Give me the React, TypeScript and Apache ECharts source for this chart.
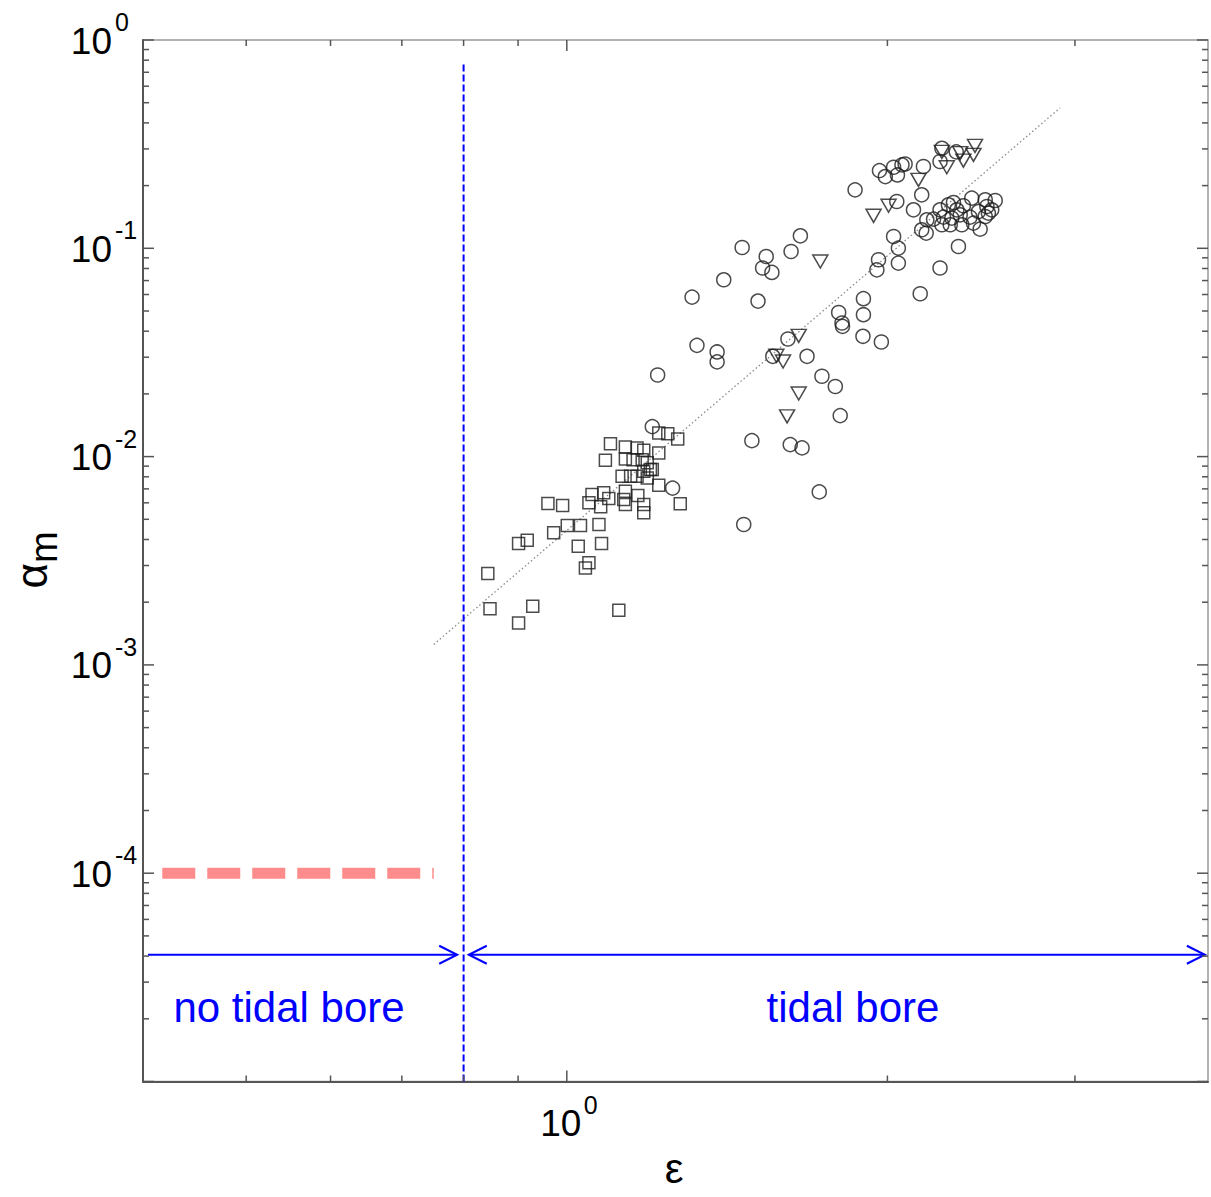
import { useEffect, useRef } from 'react';
import * as echarts from 'echarts';

const FONT = '"Liberation Sans", Arial, Helvetica, sans-serif';

// Axis ranges (both axes logarithmic)
const EPS_RANGE: [number, number] = [0.4, 4];
const ALPHA_RANGE: [number, number] = [1e-5, 1];

// Tick positions
const xMajorTicks = [1];
const xMinorTicks = [0.5, 0.6, 0.7, 0.8, 0.9, 2, 3];
const yDecades = [-5, -4, -3, -2, -1, 0];
const yLabelDecades = [-4, -3, -2, -1, 0];
const yMinorFactors = [2, 3, 4, 5, 6, 7, 8, 9];

// Observations: [epsilon, alpha_m]
const squareData: [number, number][] = [
  [1.099, 0.01154], [1.087, 0.0096], [1.135, 0.01113], [1.164, 0.01101], [1.181, 0.01072],
  [1.22, 0.01299], [1.244, 0.01289], [1.271, 0.01216], [1.135, 0.00975], [1.154, 0.00967],
  [1.177, 0.00967], [1.19, 0.00933], [1.198, 0.00866], [1.22, 0.01041], [1.127, 0.00804],
  [1.148, 0.00804], [1.164, 0.00804], [1.19, 0.0079], [1.203, 0.00866], [1.22, 0.00728],
  [1.181, 0.0085], [1.056, 0.00657], [1.083, 0.0067], [1.095, 0.00629], [1.076, 0.00574],
  [1.049, 0.006], [1.135, 0.00682], [1.131, 0.00622], [1.166, 0.0065], [1.181, 0.00589],
  [1.181, 0.00537], [1.135, 0.00589], [1.278, 0.00593], [0.96, 0.00595], [0.991, 0.00582],
  [1.001, 0.00467], [1.03, 0.00467], [1.072, 0.00472], [0.972, 0.00431], [0.918, 0.00397],
  [0.901, 0.00383], [1.025, 0.00371], [1.078, 0.00383], [1.049, 0.00309], [1.041, 0.00292],
  [0.843, 0.00275], [0.847, 0.00186], [0.929, 0.00191], [0.901, 0.00159], [1.119, 0.00183],
];

const circleData: [number, number][] = [
  [1.203, 0.01393], [1.257, 0.00706], [1.217, 0.02465], [1.311, 0.0583], [1.325, 0.0342],
  [1.384, 0.0318], [1.384, 0.0285], [1.404, 0.0706], [1.461, 0.1009], [1.466, 0.00472],
  [1.492, 0.01193], [1.512, 0.0558], [1.527, 0.0804], [1.539, 0.0913], [1.558, 0.0766],
  [1.561, 0.0303], [1.613, 0.0367], [1.621, 0.01142], [1.624, 0.0965], [1.657, 0.1148],
  [1.663, 0.01101], [1.681, 0.0303], [1.726, 0.00677], [1.736, 0.0243], [1.787, 0.0217],
  [1.806, 0.01573], [1.8, 0.0492], [1.813, 0.0438], [1.815, 0.0422], [1.899, 0.0573],
  [1.899, 0.048], [1.897, 0.0378], [1.974, 0.0355],
  [1.865, 0.1908], [1.966, 0.236], [1.991, 0.221], [2.027, 0.245], [2.044, 0.225],
  [2.064, 0.2515], [2.078, 0.254], [2.162, 0.247], [2.25, 0.302], [2.241, 0.261],
  [2.321, 0.2904], [2.154, 0.1806], [2.041, 0.1677], [2.116, 0.153], [2.027, 0.1139],
  [2.048, 0.1002], [2.048, 0.0849], [1.962, 0.0881], [1.955, 0.0788], [2.241, 0.0804],
  [2.332, 0.102], [2.444, 0.1236], [2.147, 0.0605],
  [2.4, 0.1741], [2.471, 0.1709], [2.525, 0.1696], [2.307, 0.1659], [2.282, 0.1617],
  [2.241, 0.153], [2.178, 0.137], [2.154, 0.1227], [2.175, 0.1183], [2.21, 0.138],
  [2.258, 0.1411], [2.299, 0.1396], [2.341, 0.1448], [2.391, 0.1411], [2.435, 0.1501],
  [2.488, 0.1475], [2.506, 0.153], [2.291, 0.1297], [2.349, 0.1297], [2.409, 0.1321],
  [2.471, 0.1421], [2.324, 0.153], [2.357, 0.16], [2.48, 0.1587], [2.25, 0.1297],
];

const triangleData: [number, number][] = [
  [1.73, 0.0864], [1.651, 0.038], [1.573, 0.0305], [1.596, 0.0286], [1.651, 0.0201],
  [1.61, 0.0156], [1.941, 0.1432], [2.005, 0.16], [2.139, 0.2131], [2.274, 0.245],
  [2.25, 0.2904], [2.341, 0.2862], [2.357, 0.2637], [2.417, 0.3102], [2.409, 0.2808],
];

// Power-law fit endpoints
const fitLine: [number, number][] = [[0.75, 0.001254], [2.905, 0.472]];

// Tidal bore threshold (vertical dashed line)
const boreThreshold = 0.8;
const boreLineTop = 0.78;

// Level for the non-bore regime
const noBoreLevel = 1e-4;
const noBoreSpan: [number, number] = [0.417, 0.75];

// Regime arrows: [eps start, eps end, alpha level, head at start, head at end]
const arrowLevel = 4.06e-5;
const arrowSpans: number[][] = [
  [0.4043, 0.789, arrowLevel, 0, 1],
  [0.809, 3.973, arrowLevel, 1, 1],
];

const AXIS_COLOR = '#555555';
const MARK_COLOR = '#1e1e1e';
const BLUE = '#0000ff';

const yMinorTicks = yDecades
  .slice(0, -1)
  .flatMap((e) => yMinorFactors.map((f) => f * Math.pow(10, e)));

function xTickSeries(values: number[], len: number) {
  return {
    type: 'custom',
    silent: true,
    clip: false,
    z: 6,
    data: values.map((v) => [v, ALPHA_RANGE[0]]),
    renderItem: (_p: any, api: any) => {
      const v = api.value(0);
      const a = api.coord([v, ALPHA_RANGE[0]]);
      const b = api.coord([v, ALPHA_RANGE[1]]);
      const style = { stroke: AXIS_COLOR, lineWidth: 1.5 };
      return {
        type: 'group',
        children: [
          { type: 'line', shape: { x1: a[0], y1: a[1], x2: a[0], y2: a[1] - len }, style },
          { type: 'line', shape: { x1: b[0], y1: b[1], x2: b[0], y2: b[1] + len }, style },
        ],
      };
    },
  };
}

function yTickSeries(values: number[], len: number) {
  return {
    type: 'custom',
    silent: true,
    clip: false,
    z: 6,
    data: values.map((v) => [EPS_RANGE[0], v]),
    renderItem: (_p: any, api: any) => {
      const v = api.value(1);
      const a = api.coord([EPS_RANGE[0], v]);
      const b = api.coord([EPS_RANGE[1], v]);
      const style = { stroke: AXIS_COLOR, lineWidth: 1.5 };
      return {
        type: 'group',
        children: [
          { type: 'line', shape: { x1: a[0], y1: a[1], x2: a[0] + len, y2: a[1] }, style },
          { type: 'line', shape: { x1: b[0], y1: b[1], x2: b[0] - len, y2: b[1] }, style },
        ],
      };
    },
  };
}

function powerLabel(x: number, y: number, exp: string, baseAlign: 'right' | 'center') {
  const base = {
    type: 'text',
    x,
    y,
    style: {
      text: '10',
      fontSize: 37,
      fontFamily: FONT,
      fill: '#000',
      align: baseAlign,
      verticalAlign: 'middle',
    },
  };
  const supX = baseAlign === 'right' ? x + 3 : x + 23;
  const sup = {
    type: 'text',
    x: supX,
    y: y - 19,
    style: {
      text: exp,
      fontSize: 25,
      fontFamily: FONT,
      fill: '#000',
      align: 'left',
      verticalAlign: 'middle',
    },
  };
  return [base, sup];
}

export default function App() {
  const ref = useRef<HTMLDivElement>(null);

  useEffect(() => {
    if (!ref.current) return;
    const chart = echarts.init(ref.current, undefined, { renderer: 'svg' });

    const markerStyle = {
      color: 'rgba(255,255,255,0)',
      borderColor: MARK_COLOR,
      borderWidth: 1.5,
    };

    const option: any = {
      animation: false,
      backgroundColor: '#ffffff',
      grid: {
        left: 143,
        right: 3,
        top: 40,
        bottom: 115.5,
        show: true,
        borderColor: '#9a9a9a',
        borderWidth: 1.5,
        backgroundColor: 'transparent',
      },
      xAxis: {
        type: 'log',
        logBase: 10,
        min: EPS_RANGE[0],
        max: EPS_RANGE[1],
        axisLine: { show: true, lineStyle: { color: AXIS_COLOR, width: 2 } },
        axisTick: { show: false },
        axisLabel: { show: false },
        splitLine: { show: false },
      },
      yAxis: {
        type: 'log',
        logBase: 10,
        min: ALPHA_RANGE[0],
        max: ALPHA_RANGE[1],
        axisLine: { show: true, lineStyle: { color: AXIS_COLOR, width: 2 } },
        axisTick: { show: false },
        axisLabel: { show: false },
        splitLine: { show: false },
      },
      series: [
        xTickSeries(xMajorTicks, 11),
        xTickSeries(xMinorTicks, 6),
        yTickSeries(yDecades.map((e) => Math.pow(10, e)), 11),
        yTickSeries(yMinorTicks, 6),
        {
          // y tick labels 10^e
          type: 'custom',
          silent: true,
          clip: false,
          data: yLabelDecades.map((e) => [EPS_RANGE[0], Math.pow(10, e)]),
          renderItem: (_p: any, api: any) => {
            const v = api.value(1);
            const p = api.coord([EPS_RANGE[0], v]);
            const exp = String(Math.round(Math.log10(v)));
            return { type: 'group', children: powerLabel(p[0] - 31, p[1] + 1, exp, 'right') };
          },
        },
        {
          // x tick labels 10^e
          type: 'custom',
          silent: true,
          clip: false,
          data: xMajorTicks.map((v) => [v, ALPHA_RANGE[0]]),
          renderItem: (_p: any, api: any) => {
            const v = api.value(0);
            const p = api.coord([v, ALPHA_RANGE[0]]);
            const exp = String(Math.round(Math.log10(v)));
            return { type: 'group', children: powerLabel(p[0] - 6, p[1] + 42, exp, 'center') };
          },
        },
        {
          // regime arrows
          type: 'custom',
          silent: true,
          clip: false,
          z: 4,
          encode: { x: [0, 1], y: 2 },
          data: arrowSpans,
          renderItem: (_p: any, api: any) => {
            const y = api.value(2);
            const p1 = api.coord([api.value(0), y]);
            const p2 = api.coord([api.value(1), y]);
            const style = { stroke: BLUE, lineWidth: 2, fill: 'none' };
            const children: any[] = [
              { type: 'line', shape: { x1: p1[0], y1: p1[1], x2: p2[0], y2: p2[1] }, style },
            ];
            if (api.value(3)) {
              children.push({
                type: 'polyline',
                shape: { points: [[p1[0] + 18, p1[1] - 9], [p1[0], p1[1]], [p1[0] + 18, p1[1] + 9]] },
                style,
              });
            }
            if (api.value(4)) {
              children.push({
                type: 'polyline',
                shape: { points: [[p2[0] - 18, p2[1] - 9], [p2[0], p2[1]], [p2[0] - 18, p2[1] + 9]] },
                style,
              });
            }
            return { type: 'group', children };
          },
        },
        {
          type: 'line',
          data: [[boreThreshold, ALPHA_RANGE[0]], [boreThreshold, boreLineTop]],
          symbol: 'none',
          silent: true,
          z: 3,
          lineStyle: { color: BLUE, width: 2, type: [7, 3] },
        },
        {
          type: 'line',
          data: [[noBoreSpan[0], noBoreLevel], [noBoreSpan[1], noBoreLevel]],
          symbol: 'none',
          silent: true,
          z: 3,
          lineStyle: { color: '#ff8c8c', width: 11, type: [33, 12], cap: 'butt' },
        },
        {
          type: 'line',
          data: fitLine,
          symbol: 'none',
          silent: true,
          z: 2,
          lineStyle: { color: '#8a8a8a', width: 1.3, type: [1.5, 2.5] },
        },
        {
          type: 'scatter',
          data: squareData,
          symbol: 'rect',
          symbolSize: 12,
          z: 5,
          itemStyle: markerStyle,
        },
        {
          type: 'scatter',
          data: circleData,
          symbol: 'circle',
          symbolSize: 14,
          z: 5,
          itemStyle: markerStyle,
        },
        {
          type: 'scatter',
          data: triangleData,
          symbol: 'triangle',
          symbolRotate: 180,
          symbolSize: [15, 13],
          z: 5,
          itemStyle: markerStyle,
        },
      ],
      graphic: [
        {
          type: 'text',
          x: 289,
          y: 1007,
          style: {
            text: 'no tidal bore',
            fontSize: 42,
            fontFamily: FONT,
            fill: BLUE,
            align: 'center',
            verticalAlign: 'middle',
          },
        },
        {
          type: 'text',
          x: 853,
          y: 1007,
          style: {
            text: 'tidal bore',
            fontSize: 42,
            fontFamily: FONT,
            fill: BLUE,
            align: 'center',
            verticalAlign: 'middle',
          },
        },
        {
          type: 'text',
          x: 674,
          y: 1168,
          style: {
            text: 'ε',
            fontSize: 42,
            fontFamily: FONT,
            fill: '#000',
            align: 'center',
            verticalAlign: 'middle',
          },
        },
        {
          type: 'text',
          x: 31,
          y: 560,
          rotation: Math.PI / 2,
          style: {
            text: '{a|α}{m|m}',
            align: 'center',
            verticalAlign: 'middle',
            rich: {
              a: { fontSize: 44, fontFamily: FONT, fill: '#000', lineHeight: 44, verticalAlign: 'top' },
              m: {
                fontSize: 38,
                fontFamily: FONT,
                fill: '#000',
                lineHeight: 38,
                padding: [16, 0, 0, 0],
                verticalAlign: 'top',
              },
            },
          },
        },
      ],
    };

    chart.setOption(option);
    return () => chart.dispose();
  }, []);

  return (
    <div
      ref={ref}
      style={{ position: 'fixed', left: 0, top: 0, width: 1211, height: 1197, background: '#fff' }}
    />
  );
}
